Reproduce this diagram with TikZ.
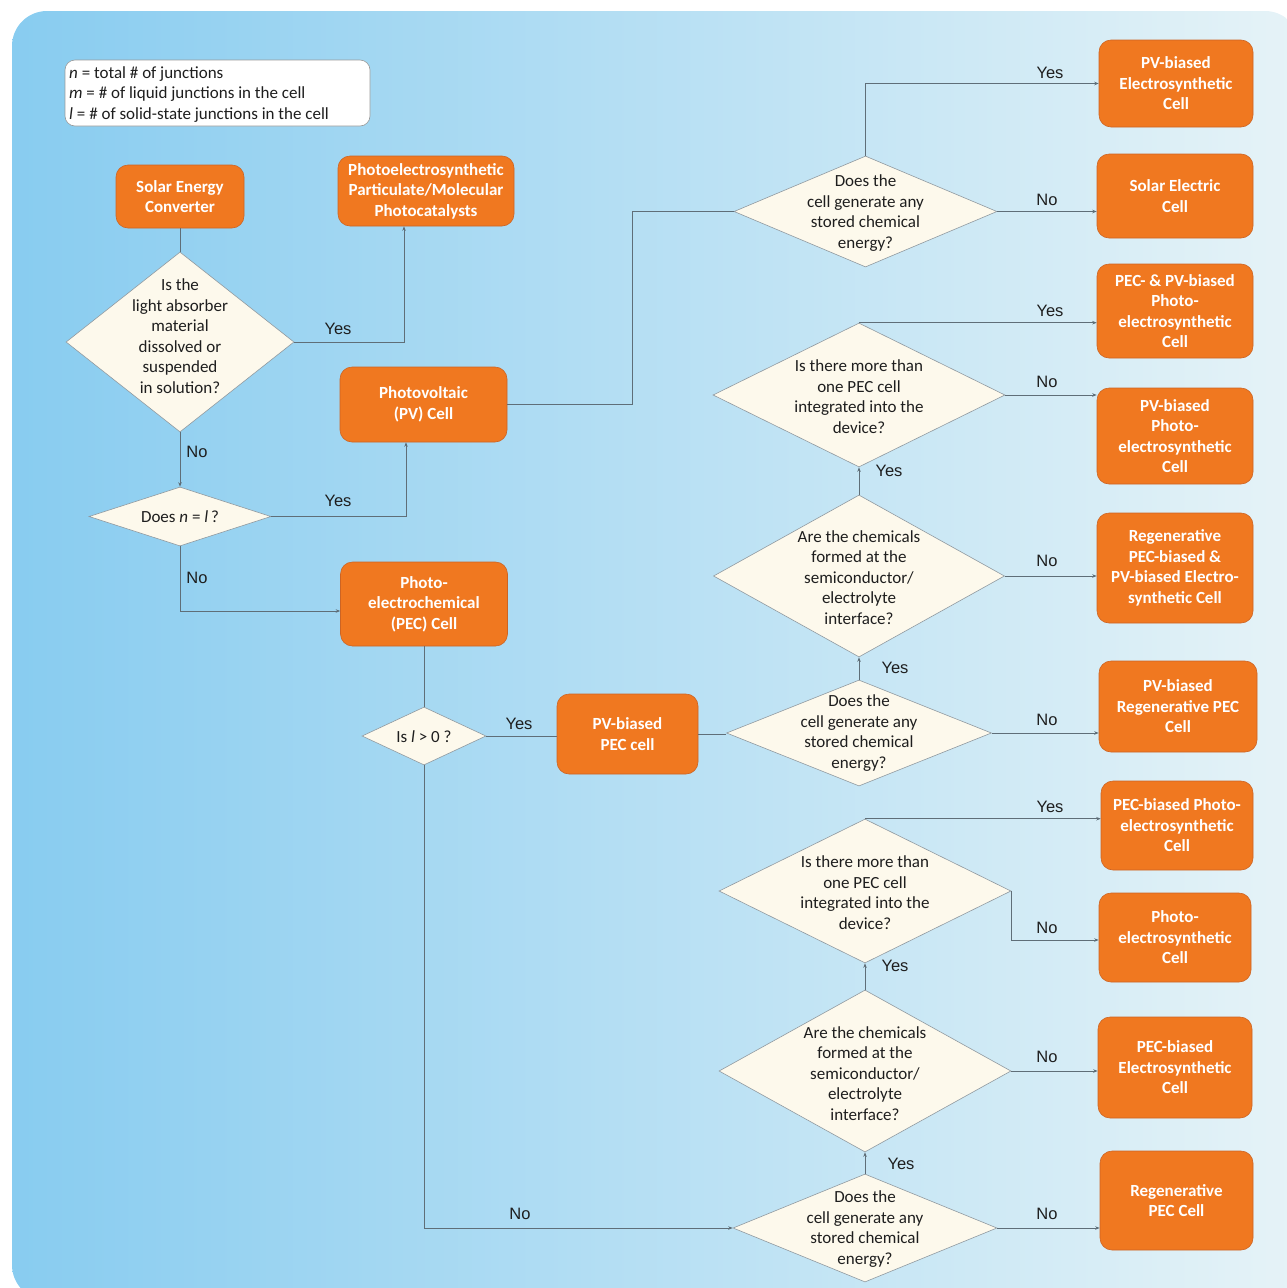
\documentclass[tikz,border=0pt]{standalone}
\usepackage{fontspec}
\setmainfont{Carlito}
\newfontfamily\labfont{Liberation Sans}
\usetikzlibrary{shapes.geometric,arrows.meta}
\definecolor{orng}{RGB}{240,120,32}
\definecolor{orngdk}{RGB}{205,100,35}
\definecolor{cream}{RGB}{253,249,236}
\definecolor{lnc}{RGB}{95,110,120}
\definecolor{bgl}{RGB}{136,204,240}
\definecolor{bgm}{RGB}{160,214,234}
\definecolor{bgr}{RGB}{230,243,247}
\definecolor{txt}{RGB}{30,30,30}
\begin{document}
\begin{tikzpicture}[x=1pt,y=-1pt,
 box/.style={draw=orngdk, line width=0.6pt, fill=orng, rounded corners=12pt, text=white,
   font=\fontsize{17}{20.5}\selectfont\bfseries, align=center, inner sep=0pt},
 dia/.style={diamond, draw=lnc!70, line width=0.6pt, fill=cream, inner sep=0pt},
 dtxt/.style={font=\fontsize{17}{20.5}\selectfont, text=txt, align=center, inner sep=0pt},
 conn/.style={draw=lnc, line width=0.7pt},
 arr/.style={conn, -{Stealth[length=4.5pt,width=3.5pt]}},
 lab/.style={font=\labfont\fontsize{16.5}{18}\selectfont, text=txt, inner sep=0pt}]
\clip (0,0) rectangle (1287,1288);
\shade[left color=bgl, middle color=bgm, right color=bgr, rounded corners=35pt] (12,11) rectangle (1300,1300);

% legend
\node[draw=gray!80, fill=white, rounded corners=10pt, minimum width=305pt, minimum height=66pt, line width=0.6pt] (leg) at (217.5,93) {};
\node[anchor=west, align=left, font=\fontsize{17}{20.5}\selectfont, text=txt, inner sep=0pt] (legt) at (69,94.5)
 {\textit{n} = total \# of junctions\\ \textit{m} = \# of liquid junctions in the cell\\ \textit{l} = \# of solid-state junctions in the cell};

% left boxes
\node[box, minimum width=128pt, minimum height=63pt] (sec) at (180,196.5) {Solar Energy\\Converter};
\node[box, minimum width=176pt, minimum height=70pt] (pcat) at (426,191) {Photoelectrosynthetic\\Particulate/Molecular\\Photocatalysts};
\node[box, minimum width=167pt, minimum height=75pt] (pv) at (423.5,404.5) {Photovoltaic\\(PV) Cell};
\node[box, minimum width=167pt, minimum height=84pt] (pec) at (424,604) {Photo-\\electrochemical\\(PEC) Cell};
\node[box, minimum width=141pt, minimum height=80pt] (pvpec) at (627.5,734) {PV-biased\\PEC cell};

% right boxes
\node[box, minimum width=154pt, minimum height=87pt] (b6) at (1176,83.5) {PV-biased\\Electrosynthetic\\Cell};
\node[box, minimum width=156pt, minimum height=84pt] (b7) at (1175,196) {Solar Electric\\Cell};
\node[box, minimum width=156pt, minimum height=94pt] (b8) at (1175,311) {PEC- \& PV-biased\\Photo-\\electrosynthetic\\Cell};
\node[box, minimum width=156pt, minimum height=96pt] (b9) at (1175,436) {PV-biased\\Photo-\\electrosynthetic\\Cell};
\node[box, minimum width=156pt, minimum height=110pt] (b10) at (1175,568) {Regenerative\\PEC-biased \&\\PV-biased Electro-\\synthetic Cell};
\node[box, minimum width=158pt, minimum height=91pt] (b11) at (1178,706.5) {PV-biased\\Regenerative PEC\\Cell};
\node[box, minimum width=152pt, minimum height=89pt] (b12) at (1177,825.5) {PEC-biased Photo-\\electrosynthetic\\Cell};
\node[box, minimum width=152pt, minimum height=89pt] (b13) at (1175,937.5) {Photo-\\electrosynthetic\\Cell};
\node[box, minimum width=154pt, minimum height=101pt] (b14) at (1175,1067.5) {PEC-biased\\Electrosynthetic\\Cell};
\node[box, minimum width=153pt, minimum height=99pt] (b15) at (1176.5,1200.5) {Regenerative\\PEC Cell};

% diamonds
\node[dia, minimum width=228pt, minimum height=180pt] (d1) at (180,342) {};
\node[dtxt] (d1t) at (180,336) {Is the\\light absorber\\material\\dissolved or\\suspended\\in solution?};
\node[dia, minimum width=182pt, minimum height=59pt] (d2) at (180,516.5) {};
\node[dtxt] (d2t) at (180,517) {Does \textit{n} = \textit{l}\,?};
\node[dia, minimum width=124pt, minimum height=58pt] (d3) at (424,736) {};
\node[dtxt] (d3t) at (424,737) {Is \textit{l} > 0 ?};
\node[dia, minimum width=263pt, minimum height=111pt] (d4) at (865.5,211.5) {};
\node[dtxt] (d4t) at (865.5,213) {Does the\\cell generate any\\stored chemical\\energy?};
\node[dia, minimum width=292pt, minimum height=144pt] (d5) at (859,395) {};
\node[dtxt] (d5t) at (859,396.5) {Is there more than\\one PEC cell\\integrated into the\\device?};
\node[dia, minimum width=291pt, minimum height=162pt] (d6) at (859,576) {};
\node[dtxt] (d6t) at (859,577.5) {Are the chemicals\\formed at the\\semiconductor/\\electrolyte\\interface?};
\node[dia, minimum width=265pt, minimum height=106pt] (d7) at (859,733) {};
\node[dtxt] (d7t) at (859,733) {Does the\\cell generate any\\stored chemical\\energy?};
\node[dia, minimum width=292pt, minimum height=144pt] (d8) at (865,891) {};
\node[dtxt] (d8t) at (865,892.5) {Is there more than\\one PEC cell\\integrated into the\\device?};
\node[dia, minimum width=292pt, minimum height=162pt] (d9) at (865,1071) {};
\node[dtxt] (d9t) at (865,1073.5) {Are the chemicals\\formed at the\\semiconductor/\\electrolyte\\interface?};
\node[dia, minimum width=264pt, minimum height=108pt] (d10) at (865,1228) {};
\node[dtxt] (d10t) at (865,1229) {Does the\\cell generate any\\stored chemical\\energy?};

\coordinate (j1) at (632,0);

% connectors
\draw[conn] (sec.south) -- (d1.north);
\draw[arr] (d1.east) -| ([xshift=-22pt]pcat.south);
\draw[arr] (d1.south) -- (d2.north);
\draw[arr] (d2.east) -| ([xshift=-17.5pt]pv.south);
\draw[arr] (d2.south) |- ([yshift=-7pt]pec.west);
\draw[conn] (pv.east) -- (pv.east -| j1) |- (d4.west);
\draw[arr] (d4.north) |- (b6.west);
\draw[arr] (d4.east) -- (d4.east -| b7.west);
\draw[conn] (pec.south) -- (d3.north);
\draw[conn] (d3.east) -- (d3.east -| pvpec.west);
\draw[arr] (d3.south) |- (d10.west);
\draw[conn] (pvpec.east) -- (pvpec.east -| d7.west);
\draw[arr] (d7.east) -- (d7.east -| b11.west);
\draw[arr] (d7.north) -- (d6.south);
\draw[arr] (d6.east) -- (d6.east -| b10.west);
\draw[arr] (d6.north) -- (d5.south);
\draw[arr] (d5.north) -- (d5.north -| b8.west);
\draw[arr] (d5.east) -- (d5.east -| b9.west);
\draw[arr] (d10.north) -- (d9.south);
\draw[arr] (d10.east) -- (d10.east -| b15.west);
\draw[arr] (d9.east) -- (d9.east -| b14.west);
\draw[arr] (d9.north) -- (d8.south);
\draw[arr] (d8.north) -- (d8.north -| b12.west);
\draw[arr] (d8.east) |- ([yshift=-2.5pt]b13.west);

% labels
\node[lab] (l1) at (338,329) {Yes};
\node[lab] (l2) at (197,452) {No};
\node[lab] (l3) at (338,501) {Yes};
\node[lab] (l4) at (197,578) {No};
\node[lab] (l5) at (1050,73) {Yes};
\node[lab] (l6) at (1047,200) {No};
\node[lab] (l7) at (1050,311) {Yes};
\node[lab] (l8) at (1047,382) {No};
\node[lab] (l9) at (889,471) {Yes};
\node[lab] (l10) at (1047,561) {No};
\node[lab] (l11) at (895,668) {Yes};
\node[lab] (l12) at (1047,720) {No};
\node[lab] (l13) at (519,724) {Yes};
\node[lab] (l14) at (520,1214) {No};
\node[lab] (l15) at (1050,807) {Yes};
\node[lab] (l16) at (1047,928) {No};
\node[lab] (l17) at (895,966) {Yes};
\node[lab] (l18) at (1047,1057) {No};
\node[lab] (l19) at (901,1164) {Yes};
\node[lab] (l20) at (1047,1214) {No};
\end{tikzpicture}
\end{document}
